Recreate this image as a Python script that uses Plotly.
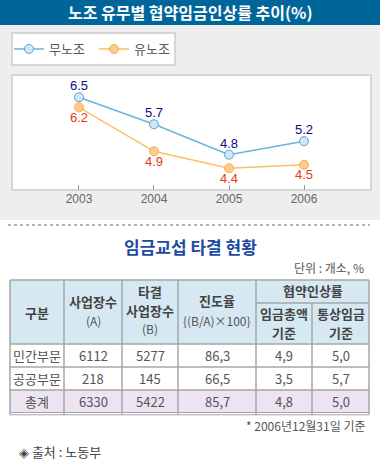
import plotly.graph_objects as go

W, H = 380, 467

# ---- chart data ----
years = [2003, 2004, 2005, 2006]
non_union = [6.5, 5.7, 4.8, 5.2]
union = [6.2, 4.9, 4.4, 4.5]
series_names = ["무노조", "유노조"]

# ---- table data ----
row_labels = ["민간부문", "공공부문", "총계"]
sites_a = [6112, 218, 6330]
settled_b = [5277, 145, 5422]
progress = [86.3, 66.5, 85.7]
total_wage = [4.9, 3.5, 4.8]
ordinary_wage = [5.0, 5.7, 5.0]

KR = "Noto Sans CJK KR"


def px(x):
    return x / W


def py(y):
    return 1 - y / H


def fmt(v):
    return f"{v:.1f}".replace(".", ",")


fig = go.Figure()

fig.add_trace(go.Scatter(
    x=years, y=non_union, name=series_names[0], mode="lines+markers",
    line=dict(color="#6ab3e0", width=1.5),
    marker=dict(size=9, color="#d2e6f6", line=dict(color="#4ea6dc", width=1)),
))
fig.add_trace(go.Scatter(
    x=years, y=union, name=series_names[1], mode="lines+markers",
    line=dict(color="#fdc060", width=1.5),
    marker=dict(size=9, color="#fdca92", line=dict(color="#f8ad45", width=1)),
))

shapes = []


def rect(x0, y0, x1, y1, fill, line_color=None, lw=0):
    shapes.append(dict(type="rect", xref="paper", yref="paper",
                       x0=px(x0), x1=px(x1), y0=py(y1), y1=py(y0),
                       fillcolor=fill, layer="below",
                       line=dict(color=line_color or fill, width=lw)))


def hline(y, x0, x1, color="#a6a6a6", lw=1.5, dash="solid"):
    shapes.append(dict(type="line", xref="paper", yref="paper",
                       x0=px(x0), x1=px(x1), y0=py(y), y1=py(y),
                       line=dict(color=color, width=lw, dash=dash)))


def vline(x, y0, y1, color="#a6a6a6", lw=1.5):
    shapes.append(dict(type="line", xref="paper", yref="paper",
                       x0=px(x), x1=px(x), y0=py(y0), y1=py(y1),
                       line=dict(color=color, width=lw)))


# backgrounds
rect(0, 0, 380, 25, "#006699")
rect(0, 25, 380, 220, "#eeeeee")
rect(12, 33, 175, 65, "#ffffff", "#cccccc", 1.5)
rect(12, 75, 371, 190, "#ffffff", "#cccccc", 1.5)
hline(225, 8, 370, color="#9a9a9a", lw=1.5, dash="dot")

# table
T_L, T_R = 10, 369
cols = [10, 64, 122, 178, 256, 312, 369]
rect(T_L, 280, T_R, 344, "#d6e9f2")
rect(T_L, 390, T_R, 413, "#ece4f2")
hline(280, T_L, T_R)
hline(303, 256, T_R)
hline(344, T_L, T_R)
hline(367, T_L, T_R)
hline(390, T_L, T_R)
hline(412.5, T_L, T_R, lw=1)
hline(414.8, T_L, T_R, lw=1)
for c in cols:
    vline(c, 303 if c == 312 else 280, 414.8)

annotations = []

# data labels tied to the data axes
for yr, v in zip(years, non_union):
    annotations.append(dict(xref="x", yref="y", x=yr, y=v, text=f"{v:.1f}",
                            showarrow=False, yanchor="middle", yshift=11.5,
                            font=dict(size=13, color="#0b0b84", family="Liberation Sans")))
for yr, v in zip(years, union):
    annotations.append(dict(xref="x", yref="y", x=yr, y=v, text=f"{v:.1f}",
                            showarrow=False, yanchor="middle", yshift=-10,
                            font=dict(size=13, color="#e63a10", family="Liberation Sans")))


def text(x, y, s, size=12, color="#555555", anchor="center", bold=False, family=KR):
    if bold:
        s = f"<b>{s}</b>"
    annotations.append(dict(xref="paper", yref="paper", x=px(x), y=py(y),
                            text=s, showarrow=False, xanchor=anchor, yanchor="middle",
                            font=dict(size=size, color=color, family=family)))


text(190, 12.5, "노조 유무별 협약임금인상률 추이(%)", size=16, color="#ffffff", bold=True)
text(190, 246, "임금교섭 타결 현황", size=17, color="#1c4aa0", bold=True)
text(366, 267, "단위 : 개소, %", size=12, color="#555555", anchor="right")

HC = "#444444"
centers = [(cols[i] + cols[i + 1]) / 2 for i in range(6)]
text(centers[0], 312, "구분", 13, HC, bold=True)
text(centers[1], 301, "사업장수", 13, HC, bold=True)
text(centers[1], 320, "(A)", 12, "#555555")
text(centers[2], 291, "타결", 13, HC, bold=True)
text(centers[2], 310, "사업장수", 13, HC, bold=True)
text(centers[2], 328, "(B)", 12, "#555555")
text(centers[3], 300, "진도율", 13, HC, bold=True)
text(centers[3], 320, "{(B/A)×100}", 12, "#555555")
text((256 + 369) / 2, 290, "협약인상률", 13, HC, bold=True)
text(centers[4], 313, "임금총액", 13, HC, bold=True)
text(centers[4], 332, "기준", 13, HC, bold=True)
text(centers[5], 313, "통상임금", 13, HC, bold=True)
text(centers[5], 332, "기준", 13, HC, bold=True)

row_y = [355.5, 378.5, 401.5]
for i, ry in enumerate(row_y):
    vals = [row_labels[i], str(sites_a[i]), str(settled_b[i]),
            fmt(progress[i]), fmt(total_wage[i]), fmt(ordinary_wage[i])]
    for j, v in enumerate(vals):
        text(centers[j], ry, v, 13, "#555555")

text(367, 425, "* 2006년12월31일 기준", 12, "#555555", anchor="right")
text(17, 451, "◈ 출처 : 노동부", 13, "#444444", anchor="left")

fig.update_layout(
    width=W, height=H,
    margin=dict(l=0, r=0, t=0, b=0, pad=0),
    paper_bgcolor="#ffffff", plot_bgcolor="rgba(0,0,0,0)",
    font=dict(family=KR, color="#555555"),
    shapes=shapes, annotations=annotations,
    showlegend=True,
    legend=dict(orientation="h", x=px(9), y=py(49), xanchor="left", yanchor="middle",
                bgcolor="rgba(0,0,0,0)", borderwidth=0,
                entrywidth=40, entrywidthmode="pixels",
                font=dict(size=13, color="#5a5a5a", family=KR)),
    xaxis=dict(domain=[px(12), px(371)], range=[2002.107, 2006.893],
               tickvals=years, ticktext=[str(y) for y in years],
               ticks="inside", ticklen=5, tickcolor="#999999", tickwidth=1,
               showgrid=False, zeroline=False, showline=False,
               tickfont=dict(size=12, color="#666666", family="Liberation Sans"),
               fixedrange=True),
    yaxis=dict(domain=[py(190), py(75)], range=[3.753, 7.16], visible=False,
               fixedrange=True),
)

fig.write_html("out.html", config={"displayModeBar": False},
               post_script="document.body.style.margin='0';document.body.style.overflow='hidden';")
